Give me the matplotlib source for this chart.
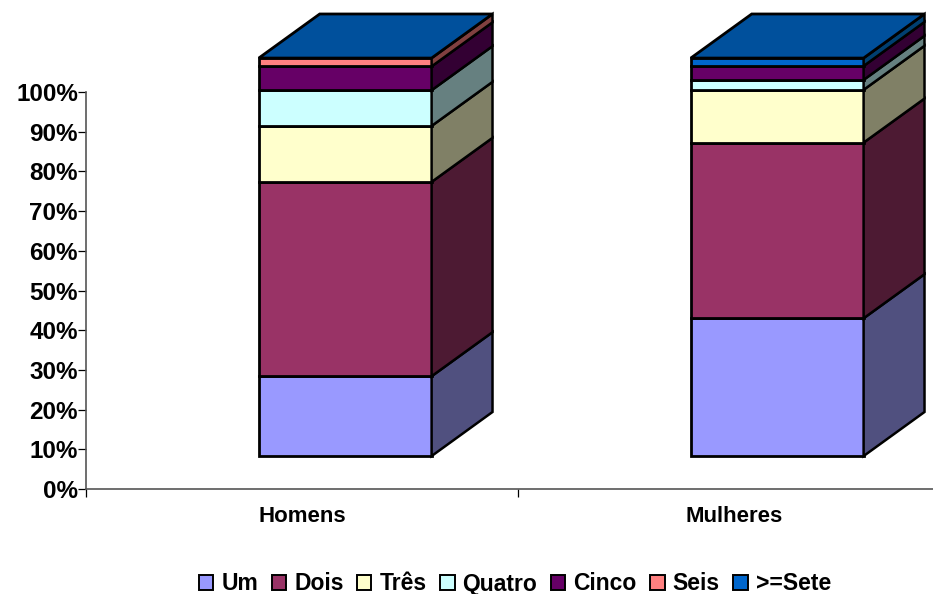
import matplotlib
matplotlib.use('Agg')
import matplotlib.pyplot as plt
from matplotlib.patches import Polygon, Patch

plt.rcParams['font.family'] = ['Liberation Sans', 'DejaVu Sans']
plt.rcParams['font.weight'] = 'bold'

categorias = ['Homens', 'Mulheres']
series = ['Um', 'Dois', 'Três', 'Quatro', 'Cinco', 'Seis', '>=Sete']
um = [20.1, 34.7]
dois = [48.95, 44.25]
tres = [14.1, 13.3]
quatro = [9.0, 2.5]
cinco = [6.0, 3.5]
seis = [2.1, 0.0]
sete = [0.0, 2.0]
valores = [um, dois, tres, quatro, cinco, seis, sete]

cores = ['#9999FF', '#993366', '#FFFFCC', '#CCFFFF', '#660066', '#FF8080', '#0066CC']
cores_lado = ['#50507F', '#4D1A33', '#808066', '#668080', '#330033', '#804040', '#003F70']
cor_topo = '#00509C'

W, H = 933, 594
fig = plt.figure(figsize=(W / 100, H / 100), dpi=100, facecolor='white')
# eixo em pixels da referencia: x de 86 a 950, 0% em y=489, 100% em y=92
ax = fig.add_axes([86 / W, (H - 489) / H, (950 - 86) / W, (489 - 92) / H])
ax.set_xlim(-0.5, 1.5)
ax.set_ylim(0, 100)

# parametros do efeito 3D (unidades dos dados)
larg = 0.4
prof_x = 0.141
prof_y = 11.1
base = 8.3

for i in range(len(categorias)):
    x0 = i - 0.1
    x1 = x0 + larg
    acum = base
    for j, vals in enumerate(valores):
        v = vals[i]
        if v <= 0:
            continue
        frente = [(x0, acum), (x1, acum), (x1, acum + v), (x0, acum + v)]
        lado = [(x1, acum), (x1 + prof_x, acum + prof_y),
                (x1 + prof_x, acum + v + prof_y), (x1, acum + v)]
        ax.add_patch(Polygon(frente, closed=True, facecolor=cores[j], edgecolor='black',
                             linewidth=2.0, clip_on=False, zorder=3))
        ax.add_patch(Polygon(lado, closed=True, facecolor=cores_lado[j], edgecolor='black',
                             linewidth=1.8, clip_on=False, zorder=3))
        acum += v
    topo = [(x0, acum), (x1, acum), (x1 + prof_x, acum + prof_y), (x0 + prof_x, acum + prof_y)]
    ax.add_patch(Polygon(topo, closed=True, facecolor=cor_topo, edgecolor='black',
                         linewidth=2.0, clip_on=False, zorder=4))

for lado in ['top', 'right']:
    ax.spines[lado].set_visible(False)
for lado in ['left', 'bottom']:
    ax.spines[lado].set_color('#555555')
    ax.spines[lado].set_linewidth(1.2)

ax.set_yticks(range(0, 101, 10))
ax.set_yticklabels([f'{p}%' for p in range(0, 101, 10)], fontsize=17.5, fontweight='bold')
ax.tick_params(axis='y', length=5.8, width=0.9, color='black', pad=0)

ax.set_xticks([-0.5, 0.5, 1.5])
ax.set_xticklabels([])
ax.tick_params(axis='x', length=5.8, width=0.9, color='black')
for i, nome in enumerate(categorias):
    ax.text(i, -6.9, nome, ha='center', va='center', fontsize=16, fontweight='bold')

handles = [Patch(facecolor=c, edgecolor='black', linewidth=1.4) for c in cores]
fig.legend(handles, series, loc='center', bbox_to_anchor=(515 / W, (H - 584) / H), ncol=7,
           frameon=False, fontsize=16.5, handlelength=0.62, handleheight=0.62,
           handletextpad=0.35, columnspacing=0.6, borderpad=0, borderaxespad=0)

fig.savefig('out.png', dpi=100, facecolor='white')
plt.close(fig)
